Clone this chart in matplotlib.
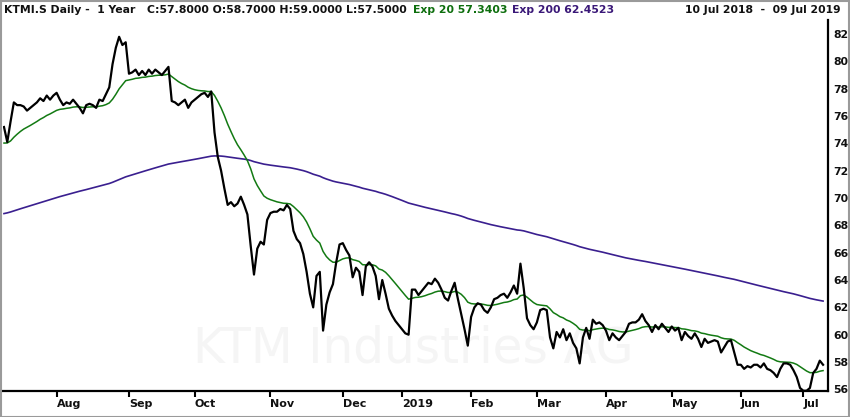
import numpy as np
import pandas as pd
import matplotlib
matplotlib.use("Agg")
import matplotlib.pyplot as plt
from matplotlib.patches import Rectangle

# ---- data (daily closes, by month) ----
close_2018_07 = [75.2, 74.1, 75.6, 77.0, 76.8, 76.8, 76.7, 76.4, 76.6, 76.8, 77.0, 77.3, 77.1, 77.5, 77.2, 77.5]
close_2018_08 = [77.7, 77.2, 76.8, 77.0, 76.9, 77.2, 76.9, 76.6, 76.2, 76.8, 76.9, 76.8, 76.6, 77.2, 77.1, 77.6,
                 78.1, 79.8, 81.0, 81.8, 81.2, 81.4]
close_2018_09 = [79.1, 79.2, 79.4, 79.0, 79.3, 79.0, 79.4, 79.1, 79.4, 79.2, 79.0, 79.3, 79.6, 77.1, 77.0, 76.8,
                 77.0, 77.2, 76.6, 77.0]
close_2018_10 = [77.2, 77.4, 77.6, 77.7, 77.4, 77.8, 74.8, 73.0, 72.0, 70.7, 69.5, 69.7, 69.4, 69.6, 70.1, 69.5,
                 68.8, 66.5, 64.4, 66.3, 66.8, 66.6, 68.4]
close_2018_11 = [68.9, 69.0, 69.0, 69.2, 69.1, 69.5, 69.2, 67.6, 67.0, 66.7, 65.9, 64.6, 63.0, 62.0, 64.3, 64.6,
                 60.3, 62.2, 63.1, 63.7, 65.3, 66.6]
close_2018_12 = [66.7, 66.2, 65.8, 64.2, 64.9, 64.6, 62.9, 65.0, 65.3, 65.0, 64.3, 62.6, 64.0, 63.0, 61.9, 61.4,
                 61.0, 60.7]
close_2019_01 = [60.4, 60.1, 60.0, 63.3, 63.3, 62.9, 63.2, 63.5, 63.8, 63.7, 64.1, 63.8, 63.3, 62.7, 62.5, 63.2,
                 63.8, 62.6, 61.5, 60.4, 59.2]
close_2019_02 = [61.3, 62.0, 62.3, 62.2, 61.8, 61.6, 62.0, 62.6, 62.7, 62.9, 63.0, 62.7, 63.1, 63.6, 63.0, 65.2,
                 63.4, 61.2, 60.7, 60.4]
close_2019_03 = [60.9, 61.8, 61.9, 61.8, 59.8, 59.0, 60.2, 59.8, 60.4, 59.6, 60.1, 59.4, 59.0, 57.9, 59.8, 60.5,
                 59.7, 61.1, 60.8, 60.9, 60.7]
close_2019_04 = [60.3, 59.6, 60.1, 59.8, 59.6, 59.9, 60.2, 60.8, 60.9, 60.9, 61.1, 61.5, 61.0, 60.7, 60.2, 60.7,
                 60.4, 60.8, 60.5, 60.2]
close_2019_05 = [60.6, 60.3, 60.5, 59.6, 60.2, 59.9, 59.7, 60.1, 59.7, 59.1, 59.7, 59.4, 59.5, 59.6, 59.5, 58.7,
                 59.1, 59.5, 59.6, 58.7, 57.8]
close_2019_06 = [57.8, 57.5, 57.7, 57.6, 57.8, 57.8, 57.6, 57.9, 57.5, 57.4, 57.2, 56.9, 57.5, 57.9, 57.9, 57.8,
                 57.4, 56.9, 56.1]
close_2019_07 = [55.9, 55.9, 56.1, 57.2, 57.5, 58.1, 57.8]

holidays = ["2018-08-15", "2018-12-24", "2018-12-25", "2018-12-26", "2019-01-01", "2019-01-02",
            "2019-04-19", "2019-04-22", "2019-05-01", "2019-05-30", "2019-06-10"]

ema20_seed = 73.9    # EMA20 level at the left edge
ema200_seed = 68.8   # EMA200 level at the left edge

header_left = "KTMI.S Daily -  1 Year"
header_ohlc = "C:57.8000 O:58.7000 H:59.0000 L:57.5000"
header_ema20 = "Exp 20 57.3403"
header_ema200 = "Exp 200 62.4523"
header_range = "10 Jul 2018  -  09 Jul 2019"
watermark = "KTM Industries AG"
y_ticks = [56, 58, 60, 62, 64, 66, 68, 70, 72, 74, 76, 78, 80, 82]

# ---- build series ----
dates = pd.bdate_range("2018-07-10", "2019-07-09")
dates = dates[~dates.isin(pd.to_datetime(holidays))]
close_vals = np.concatenate([close_2018_07, close_2018_08, close_2018_09, close_2018_10, close_2018_11,
                             close_2018_12, close_2019_01, close_2019_02, close_2019_03, close_2019_04,
                             close_2019_05, close_2019_06, close_2019_07])
n = min(len(dates), len(close_vals))
dates = dates[:n]
close = pd.Series(close_vals[:n], index=dates)


def ema(series, span, seed):
    s = pd.concat([pd.Series([seed]), pd.Series(series.values)], ignore_index=True)
    return s.ewm(span=span, adjust=False).mean().iloc[1:].values


ema20 = ema(close, 20, ema20_seed)
ema200 = ema(close, 200, ema200_seed)
x = np.arange(n)

# ---- figure ----
W, H = 850, 417
fig = plt.figure(figsize=(W / 100, H / 100), dpi=100)
fig.patch.set_facecolor("white")
ax = fig.add_axes([3 / W, 1 - 391 / H, (828 - 3) / W, (391 - 20) / H])

ax.text(0.497, 0.115, watermark, transform=ax.transAxes, ha="center", va="center",
        fontsize=35, color="#f5f5f5", zorder=0)

ax.plot(x, ema200, color="#3a1f8f", lw=1.2, zorder=2)
ax.plot(x, ema20, color="#137a13", lw=1.1, zorder=3)
ax.plot(x, close.values, color="black", lw=1.6, zorder=4)

ax.set_xlim(-0.3, n - 1 + 1.5)
ax.set_ylim(55.88, 83.03)

# month ticks at first trading day of each month
per = dates.to_period("M")
first = np.r_[0, np.nonzero(np.asarray(per[1:] != per[:-1]))[0] + 1]
first = first[1:]
labels = ["2019" if dates[i].month == 1 else dates[i].strftime("%b") for i in first]
ax.set_xticks(first)
ax.set_xticklabels(labels)
for lbl in ax.get_xticklabels():
    lbl.set_ha("left")
    lbl.set_fontweight("bold")
ax.tick_params(axis="x", direction="out", length=4, width=1.5, color="black", pad=2,
               labelsize=8, labelcolor="#111111")

ax.yaxis.tick_right()
ax.set_yticks(y_ticks)
ax.tick_params(axis="y", length=0, pad=4, labelsize=7.8, labelcolor="#111111")
for lbl in ax.get_yticklabels():
    lbl.set_fontweight("bold")

for s in ["top", "left"]:
    ax.spines[s].set_visible(False)
for s in ["bottom", "right"]:
    ax.spines[s].set_linewidth(1.6)
    ax.spines[s].set_color("black")

# header
yh = 1 - 10 / H
hkw = dict(fontsize=7.8, va="center", fontweight="bold")
fig.text(4 / W, yh, header_left, ha="left", color="#111111", **hkw)
fig.text(147 / W, yh, header_ohlc, ha="left", color="#111111", **hkw)
fig.text(413 / W, yh, header_ema20, ha="left", color="#0d6e0d", **hkw)
fig.text(512 / W, yh, header_ema200, ha="left", color="#3a1878", **hkw)
fig.text(841 / W, yh, header_range, ha="right", color="#111111", **hkw)

# outer grey frame
fig.add_artist(Rectangle((0.5 / W, 0.5 / H), 1 - 1.5 / W, 1 - 1.5 / H, transform=fig.transFigure,
                         fill=False, edgecolor="#9a9a9a", lw=1.5))

fig.savefig("out.png", dpi=100, facecolor="white")
